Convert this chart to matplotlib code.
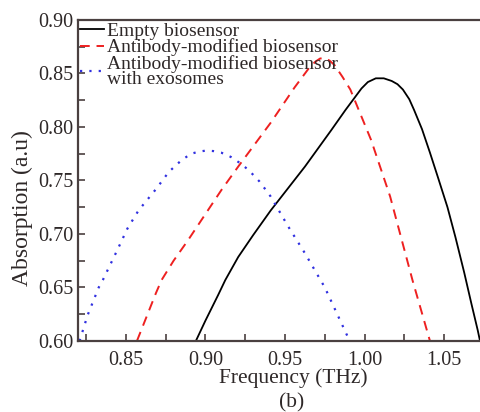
import matplotlib
matplotlib.use("Agg")
import matplotlib.pyplot as plt
from matplotlib.ticker import MultipleLocator, FormatStrFormatter

plt.rcParams['font.family'] = ['Liberation Serif', 'DejaVu Serif']
plt.rcParams['font.size'] = 14

# curves
freq_empty = [0.894, 0.900, 0.908, 0.9125, 0.9206, 0.930, 0.941, 0.9625, 0.979,
              0.988, 0.994, 0.998, 1.002, 1.007, 1.012, 1.017, 1.0206, 1.024,
              1.028, 1.031, 1.036, 1.041, 1.046, 1.052, 1.057, 1.0625, 1.067,
              1.071, 1.076]
abs_empty = [0.600, 0.619, 0.643, 0.657, 0.6785, 0.699, 0.722, 0.763, 0.797,
             0.816, 0.828, 0.836, 0.842, 0.8455, 0.8455, 0.843, 0.840, 0.835,
             0.826, 0.816, 0.798, 0.776, 0.753, 0.725, 0.697, 0.664, 0.635,
             0.610, 0.575]

freq_ab = [0.857, 0.869, 0.8725, 0.880, 0.889, 0.910, 0.9206, 0.941, 0.956,
           0.960, 0.965, 0.969, 0.972, 0.975, 0.978, 0.981, 0.986, 0.991,
           1.004, 1.016, 1.030, 1.041]
abs_ab = [0.600, 0.645, 0.657, 0.675, 0.694, 0.741, 0.763, 0.804, 0.837,
          0.845, 0.855, 0.861, 0.864, 0.8645, 0.862, 0.858, 0.847, 0.835,
          0.788, 0.735, 0.657, 0.600]

freq_exo = [0.821, 0.826, 0.833, 0.8356, 0.845, 0.851, 0.858, 0.869, 0.877,
            0.885, 0.891, 0.896, 0.9006, 0.905, 0.910, 0.916, 0.921, 0.927,
            0.934, 0.941, 0.952, 0.9625, 0.975, 0.9906]
abs_exo = [0.600, 0.624, 0.650, 0.657, 0.686, 0.705, 0.722, 0.742, 0.758,
           0.769, 0.775, 0.777, 0.778, 0.7775, 0.776, 0.772, 0.767, 0.760,
           0.749, 0.735, 0.707, 0.682, 0.650, 0.600]

labels = ["Empty biosensor", "Antibody-modified biosensor",
          "Antibody-modified biosensor\nwith exosomes"]

txt = '#2e2828'
edge = '#4a4040'

fig = plt.figure(figsize=(4.8, 4.12), dpi=100)
ax = fig.add_axes([78/480, 1 - 341/412, 430/480, 321/412])

ax.plot(freq_empty, abs_empty, '-', color='black', lw=1.3, label=labels[0])
ax.plot(freq_ab, abs_ab, '--', color='#ee2020', lw=1.4, dashes=(5, 3.5), label=labels[1])
ax.plot(freq_exo, abs_exo, ':', color='#3030e0', lw=1.6, dashes=(1, 3.2), label=labels[2])

ax.set_xlim(0.82, 1.09)
ax.set_ylim(0.60, 0.90)
ax.xaxis.set_major_locator(MultipleLocator(0.05))
ax.xaxis.set_minor_locator(MultipleLocator(0.025))
ax.yaxis.set_major_locator(MultipleLocator(0.05))
ax.yaxis.set_minor_locator(MultipleLocator(0.025))
ax.xaxis.set_major_formatter(FormatStrFormatter('%.2f'))
ax.yaxis.set_major_formatter(FormatStrFormatter('%.2f'))
ax.tick_params(which='both', direction='in', length=5, width=1.2, colors=edge,
               labelcolor=txt, labelsize=14.5, top=False, right=False)
ax.tick_params(axis='x', pad=7)
ax.tick_params(axis='y', pad=3)
for s in ax.spines.values():
    s.set_color(edge)
    s.set_linewidth(1.6)

# axis titles placed where the reference has them
fig.text(293/480, 1 - 378/412, "Frequency (THz)", color=txt, fontsize=15.5,
         ha='center', va='center')
fig.text(292/480, 1 - 403/412, "(b)", color=txt, fontsize=15.5,
         ha='center', va='center')
fig.text(22/480, 1 - 208/412, "Absorption (a.u)", color=txt, fontsize=17,
         rotation=90, ha='center', va='center')

leg = ax.legend(loc='upper left', frameon=False, handlelength=1.25,
                handletextpad=0.15, labelspacing=-0.05, borderaxespad=0.0,
                borderpad=0.1, fontsize=14)
for t in leg.get_texts():
    t.set_color(txt)
    t.set_linespacing(0.8)

fig.savefig("out.png", dpi=100)
